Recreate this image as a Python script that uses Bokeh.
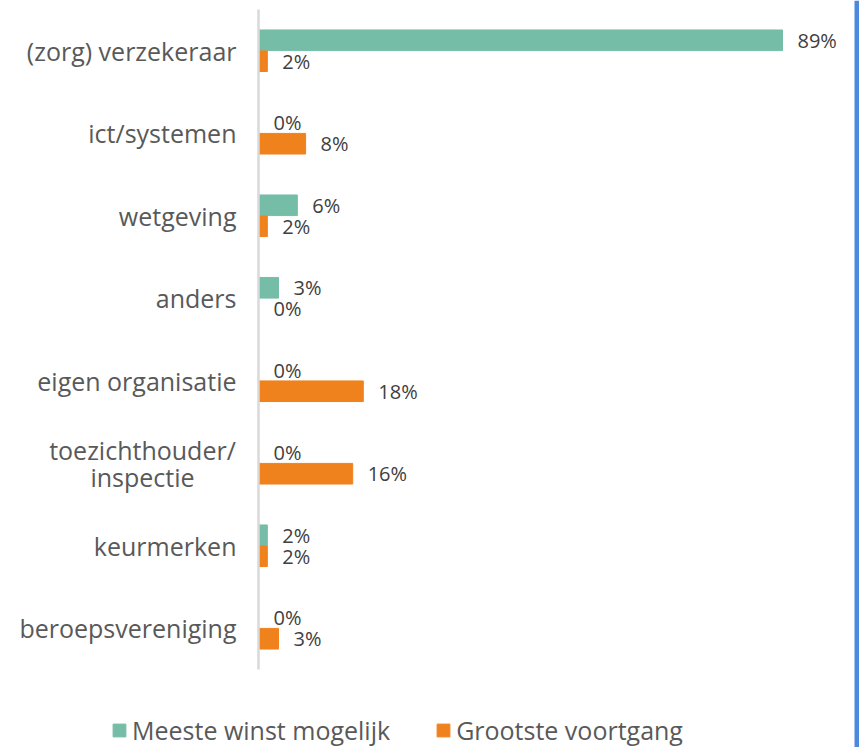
from bokeh.plotting import figure
from bokeh.models import (ColumnDataSource, LabelSet, Legend, LegendItem,
                          Range1d, BoxAnnotation)
from bokeh.core.properties import value
from bokeh.embed import file_html
from bokeh.resources import INLINE

# ---- data (top-to-bottom order as in the chart) ----
categories = ["(zorg) verzekeraar", "ict/systemen", "wetgeving", "anders",
              "eigen organisatie", "toezichthouder/\ninspectie", "keurmerken",
              "beroepsvereniging"]
meeste_winst = [89, 0, 6.6, 3.4, 0, 0, 1.5, 0]          # bar lengths (%)
grootste_voortgang = [1.5, 8, 1.5, 0, 17.8, 16, 1.5, 3.4]
meeste_labels = [89, 0, 6, 3, 0, 0, 2, 0]               # printed values (%)
grootste_labels = [2, 8, 2, 0, 18, 16, 2, 3]
series_names = ["Meeste winst mogelijk", "Grootste voortgang"]
series_colors = ["#76BDA8", "#F0821E"]

FONT = "Open Sans"
n = len(categories)
ypos = [n - i - 0.5 for i in range(n)]      # category centres, top to bottom
OFF = 0.127                                 # half distance between paired bars
H = 0.25                                    # bar thickness (fraction of band)
LINE = 0.164                                # half line spacing of 2-line labels

src = ColumnDataSource(dict(
    y=ypos,
    yg=[v + OFF for v in ypos], yo=[v - OFF for v in ypos],
    g=meeste_winst, o=grootste_voortgang,
    gl=[f"{v}%" for v in meeste_labels],
    ol=[f"{v}%" for v in grootste_labels],
))

# category labels: single-line ones right aligned, multi-line ones centred
single = dict(y=[], t=[])
multi = dict(y=[], t=[])
for c, yc in zip(categories, ypos):
    lines = c.split("\n")
    if len(lines) == 1:
        single["y"].append(yc)
        single["t"].append(c)
    else:
        k = len(lines)
        for j, ln in enumerate(lines):
            multi["y"].append(yc + LINE * (k - 1 - 2 * j))
            multi["t"].append(ln)

# pixel layout: value 0 at x=258, 89% at x=782; bands between y=9 and y=669
W, HGT = 859, 747
px_per_pct = (782 - 258) / 89
band_px = (669 - 9) / n
p = figure(width=W, height=HGT,
           x_range=Range1d(-258 / px_per_pct, (W - 258) / px_per_pct),
           y_range=Range1d(-(HGT - 669) / band_px, n + 9 / band_px),
           x_axis_type=None, y_axis_type=None,
           output_backend="svg", toolbar_location=None, min_border=0)
p.outline_line_color = None
p.grid.visible = False

r1 = p.hbar(y="yg", left=0, right="g", height=H, color=series_colors[0], source=src)
r2 = p.hbar(y="yo", left=0, right="o", height=H, color=series_colors[1], source=src)

# category axis line
p.segment(x0=[0], y0=[0], x1=[0], y1=[n], line_color="#D9D9D9", line_width=2.5)

cat_style = dict(text_baseline="middle", text_font=value(FONT),
                 text_font_size="25px", text_color="#595959")
p.add_layout(LabelSet(x=0, y="y", text="t", source=ColumnDataSource(single),
                      x_offset=-22, text_align="right", **cat_style))
p.add_layout(LabelSet(x=0, y="y", text="t", source=ColumnDataSource(multi),
                      x_offset=-116, text_align="center", **cat_style))

# value labels
for ycol, xcol, tcol in (("yg", "g", "gl"), ("yo", "o", "ol")):
    p.add_layout(LabelSet(x=xcol, y=ycol, text=tcol, source=src, x_offset=15,
                          text_baseline="middle", text_font=value(FONT),
                          text_font_size="20px", text_color="#404040"))

legend = Legend(items=[LegendItem(label=series_names[0], renderers=[r1]),
                       LegendItem(label=series_names[1], renderers=[r2])],
                orientation="horizontal", location=(111, 0),
                glyph_width=16, glyph_height=16, label_standoff=5, spacing=45,
                padding=0, margin=0, border_line_color=None,
                background_fill_alpha=0,
                label_text_font=FONT, label_text_font_size="25px",
                label_text_color="#595959")
p.add_layout(legend)

# blue stripe along the right edge
p.add_layout(BoxAnnotation(left=(854 - 258) / px_per_pct, fill_color="#4A89DC",
                           fill_alpha=1, line_color=None))

open("out.html", "w").write(file_html(p, INLINE))
